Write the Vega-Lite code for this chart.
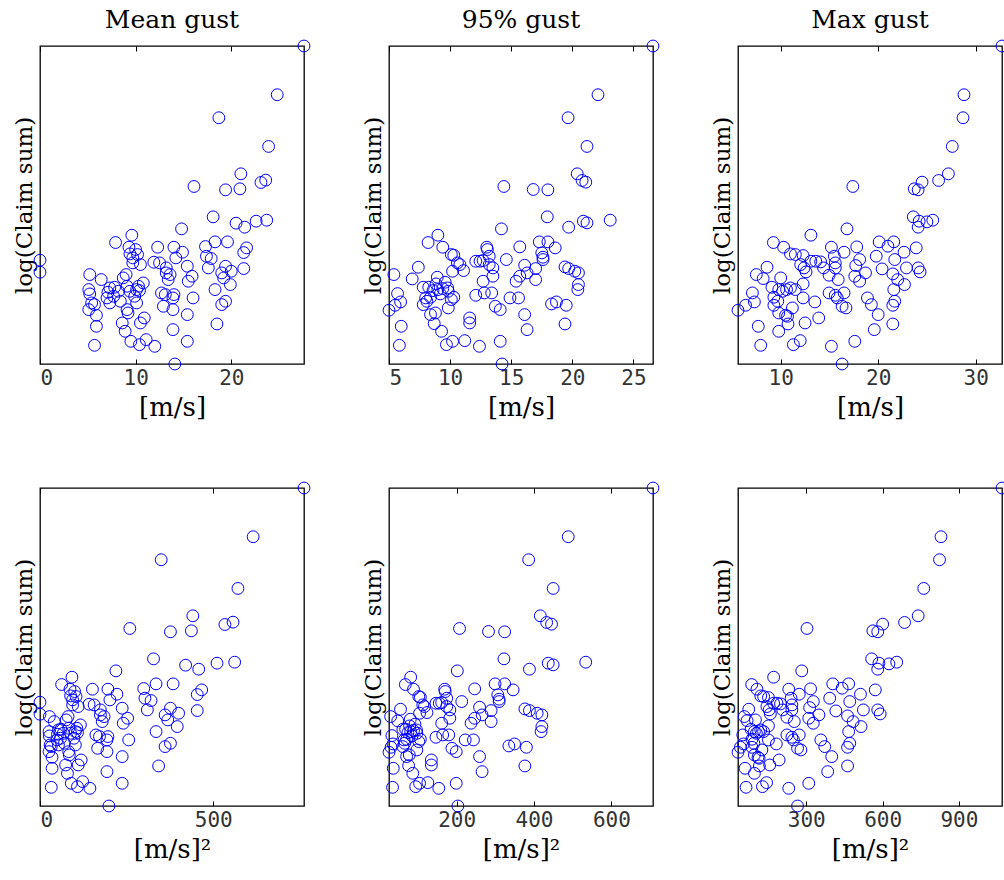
{
"$schema": "https://vega.github.io/schema/vega-lite/v6.json",
"background": "white",
"padding": {"left": 12, "top": 7, "right": 0, "bottom": 0},
"config": {
  "view": {"stroke": "black", "strokeWidth": 1.3},
  "axis": {"grid": false, "domain": false, "tickColor": "black", "tickSize": -5, "tickWidth": 1,
           "labelFont": "DejaVu Sans Mono", "labelFontSize": 21, "labelColor": "#333333", "labelPadding": 8,
           "titleFont": "DejaVu Serif", "titleFontSize": 26, "titleFontWeight": "normal", "titleColor": "black", "titlePadding": 6},
  "axisY": {"titleFontSize": 23},
  "title": {"font": "DejaVu Serif", "fontSize": 25, "fontWeight": "normal", "color": "black", "offset": 5}
},
"datasets": {
"p1": [
{"x":27.6,"x2":761.76,"y":953},{"x":24.8,"x2":615.04,"y":807},{"x":18.7,"x2":349.69,"y":738},{"x":23.9,"x2":571.21,"y":652},{"x":21.0,"x2":441,"y":570},{"x":23.1,"x2":533.61,"y":544},{"x":23.6,"x2":556.96,"y":551},{"x":16.1,"x2":259.21,"y":532},{"x":19.4,"x2":376.36,"y":522},{"x":20.9,"x2":436.81,"y":525},
{"x":18.1,"x2":327.61,"y":441},{"x":20.5,"x2":420.25,"y":422},{"x":21.4,"x2":457.96,"y":410},{"x":22.6,"x2":510.76,"y":428},{"x":23.7,"x2":561.69,"y":431},{"x":14.8,"x2":219.04,"y":405},{"x":9.6,"x2":92.16,"y":386},{"x":7.9,"x2":62.41,"y":364},{"x":9.3,"x2":86.49,"y":350},{"x":12.3,"x2":151.29,"y":350},
{"x":14.0,"x2":196,"y":350},{"x":14.9,"x2":222.01,"y":335},{"x":17.3,"x2":299.29,"y":352},{"x":18.3,"x2":334.89,"y":366},{"x":19.6,"x2":384.16,"y":366},{"x":21.6,"x2":466.56,"y":348},{"x":21.3,"x2":453.69,"y":334},{"x":17.4,"x2":302.76,"y":323},{"x":17.9,"x2":320.41,"y":316},{"x":14.2,"x2":201.64,"y":318},
{"x":0,"x2":0,"y":311},{"x":0,"x2":0,"y":275},{"x":9.4,"x2":88.36,"y":330},{"x":10.2,"x2":104.04,"y":328},{"x":10.5,"x2":110.25,"y":298},{"x":9.7,"x2":94.09,"y":303},{"x":11.9,"x2":141.61,"y":305},{"x":12.5,"x2":156.25,"y":303},{"x":13.2,"x2":174.24,"y":288},{"x":13.6,"x2":184.96,"y":268},
{"x":15.4,"x2":237.16,"y":293},{"x":15.9,"x2":252.81,"y":263},{"x":15.5,"x2":240.25,"y":248},{"x":17.6,"x2":309.76,"y":288},{"x":19.4,"x2":376.36,"y":293},{"x":19.0,"x2":361,"y":273},{"x":20.0,"x2":400,"y":278},{"x":21.3,"x2":453.69,"y":286},{"x":19.2,"x2":368.64,"y":258},{"x":19.9,"x2":396.01,"y":238},
{"x":18.3,"x2":334.89,"y":223},{"x":19.4,"x2":376.36,"y":188},{"x":19.0,"x2":361,"y":178},{"x":18.5,"x2":342.25,"y":120},{"x":5.2,"x2":27.04,"y":268},{"x":6.4,"x2":40.96,"y":253},{"x":5.1,"x2":26.01,"y":223},{"x":5.2,"x2":27.04,"y":210},{"x":5.4,"x2":29.16,"y":183},{"x":5.7,"x2":32.49,"y":178},
{"x":5.1,"x2":26.01,"y":163},{"x":5.9,"x2":34.81,"y":146},{"x":5.9,"x2":34.81,"y":113},{"x":5.7,"x2":32.49,"y":56},{"x":7.3,"x2":53.29,"y":228},{"x":7.8,"x2":60.84,"y":230},{"x":7.0,"x2":49,"y":198},{"x":7.3,"x2":53.29,"y":183},{"x":7.1,"x2":50.41,"y":215},{"x":8.4,"x2":70.56,"y":188},
{"x":8.7,"x2":75.69,"y":258},{"x":9.0,"x2":81,"y":268},{"x":9.1,"x2":82.81,"y":233},{"x":9.4,"x2":88.36,"y":218},{"x":10.1,"x2":102.01,"y":223},{"x":10.4,"x2":108.16,"y":220},{"x":9.9,"x2":98.01,"y":203},{"x":10.1,"x2":102.01,"y":183},{"x":10.8,"x2":116.64,"y":243},{"x":9.1,"x2":82.81,"y":163},
{"x":9.2,"x2":84.64,"y":153},{"x":8.6,"x2":73.96,"y":123},{"x":8.9,"x2":79.21,"y":98},{"x":9.5,"x2":90.25,"y":68},{"x":10.4,"x2":108.16,"y":58},{"x":10.5,"x2":110.25,"y":123},{"x":10.9,"x2":118.81,"y":138},{"x":11.1,"x2":123.21,"y":73},{"x":12.0,"x2":144,"y":53},{"x":14.1,"x2":198.81,"y":0},
{"x":13.9,"x2":193.21,"y":103},{"x":13.9,"x2":193.21,"y":163},{"x":12.9,"x2":166.41,"y":173},{"x":12.7,"x2":161.29,"y":213},{"x":13.1,"x2":171.61,"y":208},{"x":13.4,"x2":179.56,"y":253},{"x":14.0,"x2":196,"y":208},{"x":13.9,"x2":193.21,"y":198},{"x":16.0,"x2":256,"y":198},{"x":15.4,"x2":237.16,"y":148},
{"x":15.4,"x2":237.16,"y":68},{"x":13.2,"x2":174.24,"y":273},{"x":7.7,"x2":59.29,"y":203},{"x":10.3,"x2":106.09,"y":233},{"x":8.2,"x2":67.24,"y":218},{"x":9.7,"x2":94.09,"y":318},{"x":10.0,"x2":100,"y":343}
],
"p2": [
{"x":26.6,"x2":707.56,"y":953},{"x":22.1,"x2":488.41,"y":807},{"x":19.65,"x2":386.12,"y":738},{"x":21.2,"x2":449.44,"y":652},{"x":20.4,"x2":416.16,"y":570},{"x":20.8,"x2":432.64,"y":550},{"x":21.1,"x2":445.21,"y":545},{"x":14.4,"x2":207.36,"y":532},{"x":16.8,"x2":282.24,"y":523},{"x":18.0,"x2":324,"y":522},
{"x":17.95,"x2":322.2,"y":441},{"x":19.7,"x2":388.09,"y":410},{"x":20.9,"x2":436.81,"y":428},{"x":21.2,"x2":449.44,"y":423},{"x":23.1,"x2":533.61,"y":431},{"x":14.2,"x2":201.64,"y":405},{"x":9.0,"x2":81,"y":386},{"x":8.2,"x2":67.24,"y":364},{"x":9.4,"x2":88.36,"y":350},{"x":13.0,"x2":169,"y":350},
{"x":13.05,"x2":170.3,"y":343},{"x":15.7,"x2":246.49,"y":351},{"x":17.3,"x2":299.29,"y":366},{"x":18.0,"x2":324,"y":366},{"x":18.6,"x2":345.96,"y":348},{"x":17.5,"x2":306.25,"y":333},{"x":17.6,"x2":309.76,"y":320},{"x":17.6,"x2":309.76,"y":313},{"x":14.6,"x2":213.16,"y":313},{"x":10.1,"x2":102.01,"y":328},
{"x":10.3,"x2":106.09,"y":326},{"x":10.6,"x2":112.36,"y":303},{"x":10.8,"x2":116.64,"y":298},{"x":10.2,"x2":104.04,"y":278},{"x":11.1,"x2":123.21,"y":280},{"x":12.1,"x2":146.41,"y":308},{"x":12.45,"x2":155.0,"y":308},{"x":12.7,"x2":161.29,"y":310},{"x":13.2,"x2":174.24,"y":323},{"x":13.2,"x2":174.24,"y":298},
{"x":13.5,"x2":182.25,"y":288},{"x":13.5,"x2":182.25,"y":263},{"x":12.7,"x2":161.29,"y":248},{"x":12.1,"x2":146.41,"y":206},{"x":12.8,"x2":163.84,"y":213},{"x":13.4,"x2":179.56,"y":213},{"x":13.7,"x2":187.69,"y":173},{"x":14.1,"x2":198.81,"y":163},{"x":14.1,"x2":198.81,"y":68},{"x":14.25,"x2":203.06,"y":0},
{"x":14.9,"x2":222.01,"y":198},{"x":15.6,"x2":243.36,"y":198},{"x":15.4,"x2":237.16,"y":248},{"x":15.7,"x2":246.49,"y":263},{"x":16.1,"x2":259.21,"y":296},{"x":16.3,"x2":265.69,"y":273},{"x":17.0,"x2":289,"y":286},{"x":17.0,"x2":289,"y":253},{"x":16.1,"x2":259.21,"y":148},{"x":16.3,"x2":265.69,"y":103},
{"x":18.3,"x2":334.89,"y":180},{"x":18.7,"x2":349.69,"y":186},{"x":19.5,"x2":380.25,"y":176},{"x":19.4,"x2":376.36,"y":120},{"x":19.4,"x2":376.36,"y":291},{"x":19.7,"x2":388.09,"y":286},{"x":20.2,"x2":408.04,"y":278},{"x":20.5,"x2":420.25,"y":273},{"x":20.5,"x2":420.25,"y":238},{"x":20.45,"x2":418.2,"y":223},
{"x":5.4,"x2":29.16,"y":268},{"x":6.9,"x2":47.61,"y":255},{"x":7.4,"x2":54.76,"y":290},{"x":5.7,"x2":32.49,"y":211},{"x":5.95,"x2":35.4,"y":186},{"x":5.0,"x2":25,"y":161},{"x":5.5,"x2":30.25,"y":176},{"x":6.0,"x2":36,"y":113},{"x":5.85,"x2":34.22,"y":56},{"x":7.8,"x2":60.84,"y":230},
{"x":8.25,"x2":68.06,"y":230},{"x":8.0,"x2":64,"y":198},{"x":8.1,"x2":65.61,"y":188},{"x":8.4,"x2":70.56,"y":200},{"x":7.8,"x2":60.84,"y":178},{"x":8.95,"x2":80.1,"y":260},{"x":8.6,"x2":73.96,"y":220},{"x":9.0,"x2":81,"y":223},{"x":9.4,"x2":88.36,"y":226},{"x":9.8,"x2":96.04,"y":228},
{"x":9.6,"x2":92.16,"y":245},{"x":9.85,"x2":97.02,"y":218},{"x":10.3,"x2":106.09,"y":200},{"x":9.85,"x2":97.02,"y":168},{"x":8.4,"x2":70.56,"y":148},{"x":8.8,"x2":77.44,"y":153},{"x":8.7,"x2":75.69,"y":121},{"x":9.3,"x2":86.49,"y":98},{"x":9.7,"x2":94.09,"y":58},{"x":10.2,"x2":104.04,"y":68},
{"x":11.2,"x2":125.44,"y":70},{"x":12.4,"x2":153.76,"y":53},{"x":11.6,"x2":134.56,"y":138},{"x":11.6,"x2":134.56,"y":123},{"x":10.1,"x2":102.01,"y":193},{"x":9.2,"x2":84.64,"y":210},{"x":8.85,"x2":78.32,"y":240}
],
"p3": [
{"x":32.7,"x2":1069.29,"y":953},{"x":28.8,"x2":829.44,"y":807},{"x":28.7,"x2":823.69,"y":738},{"x":27.6,"x2":761.76,"y":652},{"x":27.2,"x2":739.84,"y":570},{"x":26.2,"x2":686.44,"y":550},{"x":24.5,"x2":600.25,"y":545},{"x":23.7,"x2":561.69,"y":525},{"x":24.1,"x2":580.81,"y":522},{"x":17.4,"x2":302.76,"y":532},
{"x":23.6,"x2":556.96,"y":441},{"x":24.2,"x2":585.64,"y":428},{"x":24.1,"x2":580.81,"y":410},{"x":25.0,"x2":625,"y":426},{"x":25.6,"x2":655.36,"y":431},{"x":16.8,"x2":282.24,"y":405},{"x":13.1,"x2":171.61,"y":386},{"x":9.25,"x2":85.56,"y":364},{"x":10.3,"x2":106.09,"y":350},{"x":15.2,"x2":231.04,"y":350},
{"x":17.8,"x2":316.84,"y":351},{"x":16.5,"x2":272.25,"y":335},{"x":20.1,"x2":404.01,"y":366},{"x":21.0,"x2":441,"y":353},{"x":21.6,"x2":466.56,"y":366},{"x":22.65,"x2":513.02,"y":335},{"x":23.9,"x2":571.21,"y":348},{"x":11.0,"x2":121,"y":330},{"x":11.5,"x2":132.25,"y":328},{"x":12.3,"x2":151.29,"y":325},
{"x":12.05,"x2":145.2,"y":298},{"x":12.4,"x2":153.76,"y":288},{"x":13.1,"x2":171.61,"y":308},{"x":13.6,"x2":184.96,"y":308},{"x":14.1,"x2":198.81,"y":306},{"x":14.4,"x2":207.36,"y":288},{"x":15.5,"x2":240.25,"y":323},{"x":15.6,"x2":243.36,"y":303},{"x":15.6,"x2":243.36,"y":288},{"x":14.96,"x2":223.8,"y":266},
{"x":15.9,"x2":252.81,"y":253},{"x":18.1,"x2":327.61,"y":313},{"x":17.7,"x2":313.29,"y":295},{"x":17.6,"x2":309.76,"y":263},{"x":18.1,"x2":327.61,"y":248},{"x":18.7,"x2":349.69,"y":273},{"x":19.8,"x2":392.04,"y":323},{"x":20.4,"x2":416.16,"y":285},{"x":21.5,"x2":462.25,"y":270},{"x":21.7,"x2":470.89,"y":313},
{"x":22.0,"x2":484,"y":253},{"x":22.7,"x2":515.29,"y":238},{"x":22.9,"x2":524.41,"y":288},{"x":24.1,"x2":580.81,"y":288},{"x":24.3,"x2":590.49,"y":276},{"x":21.6,"x2":466.56,"y":223},{"x":21.7,"x2":470.89,"y":188},{"x":21.5,"x2":462.25,"y":176},{"x":21.5,"x2":462.25,"y":120},{"x":18.9,"x2":357.21,"y":198},
{"x":19.3,"x2":372.49,"y":178},{"x":20.0,"x2":400,"y":148},{"x":19.6,"x2":384.16,"y":103},{"x":17.6,"x2":309.76,"y":68},{"x":16.3,"x2":265.69,"y":0},{"x":15.2,"x2":231.04,"y":53},{"x":14.96,"x2":223.8,"y":213},{"x":15.6,"x2":243.36,"y":206},{"x":15.8,"x2":249.64,"y":198},{"x":16.5,"x2":272.25,"y":213},
{"x":16.3,"x2":265.69,"y":173},{"x":16.7,"x2":278.89,"y":168},{"x":13.5,"x2":182.25,"y":186},{"x":13.9,"x2":193.21,"y":138},{"x":12.5,"x2":156.25,"y":123},{"x":11.3,"x2":127.69,"y":58},{"x":12.0,"x2":144,"y":70},{"x":9.8,"x2":96.04,"y":98},{"x":10.75,"x2":115.56,"y":120},{"x":7.95,"x2":63.2,"y":56},
{"x":7.7,"x2":59.29,"y":113},{"x":5.62,"x2":31.58,"y":161},{"x":6.4,"x2":40.96,"y":176},{"x":7.3,"x2":53.29,"y":186},{"x":7.1,"x2":50.41,"y":213},{"x":7.5,"x2":56.25,"y":268},{"x":8.2,"x2":67.24,"y":256},{"x":8.6,"x2":73.96,"y":290},{"x":9.1,"x2":82.81,"y":230},{"x":9.3,"x2":86.49,"y":200},
{"x":9.7,"x2":94.09,"y":188},{"x":9.3,"x2":86.49,"y":176},{"x":9.8,"x2":96.04,"y":153},{"x":10.5,"x2":110.25,"y":146},{"x":10.0,"x2":100,"y":258},{"x":9.8,"x2":96.04,"y":223},{"x":10.2,"x2":104.04,"y":218},{"x":10.6,"x2":112.36,"y":223},{"x":11.0,"x2":121,"y":228},{"x":11.5,"x2":132.25,"y":223},
{"x":11.2,"x2":125.44,"y":168},{"x":10.7,"x2":114.49,"y":143},{"x":12.3,"x2":151.29,"y":240},{"x":12.6,"x2":158.76,"y":276},{"x":12.3,"x2":151.29,"y":198}
]
},
"columns": 3,
"spacing": {"row": 124, "column": 85},
"bounds": "flush",
"concat": [
 {"title": "Mean gust", "width": 264, "height": 318, "data": {"name": "p1"},
  "layer": [
   {"mark": {"type": "point", "shape": "circle", "filled": false, "color": "#0000ff", "size": 140, "strokeWidth": 1, "opacity": 1},
    "encoding": {"x": {"field": "x", "type": "quantitative", "scale": {"domain": [0, 27.6], "nice": false, "zero": false}, "axis": {"orient": "bottom", "values": [0, 10, 20], "title": "[m/s]"}},
                 "y": {"field": "y", "type": "quantitative", "scale": {"domain": [0, 953], "nice": false, "zero": false}, "axis": {"title": "log(Claim sum)", "labels": false, "ticks": false, "titlePadding": 4}}}},
   {"mark": {"type": "point", "opacity": 0},
    "encoding": {"x": {"field": "x", "type": "quantitative", "axis": {"orient": "top", "values": [0, 10, 20], "labels": false, "title": null}}}}
  ],
  "resolve": {"axis": {"x": "independent"}}},
 {"title": "95% gust", "width": 264, "height": 318, "data": {"name": "p2"},
  "layer": [
   {"mark": {"type": "point", "shape": "circle", "filled": false, "color": "#0000ff", "size": 140, "strokeWidth": 1, "opacity": 1},
    "encoding": {"x": {"field": "x", "type": "quantitative", "scale": {"domain": [5, 26.6], "nice": false, "zero": false}, "axis": {"orient": "bottom", "values": [5, 10, 15, 20, 25], "title": "[m/s]"}},
                 "y": {"field": "y", "type": "quantitative", "scale": {"domain": [0, 953], "nice": false, "zero": false}, "axis": {"title": "log(Claim sum)", "labels": false, "ticks": false, "titlePadding": 4}}}},
   {"mark": {"type": "point", "opacity": 0},
    "encoding": {"x": {"field": "x", "type": "quantitative", "axis": {"orient": "top", "values": [5, 10, 15, 20, 25], "labels": false, "title": null}}}}
  ],
  "resolve": {"axis": {"x": "independent"}}},
 {"title": "Max gust", "width": 264, "height": 318, "data": {"name": "p3"},
  "layer": [
   {"mark": {"type": "point", "shape": "circle", "filled": false, "color": "#0000ff", "size": 140, "strokeWidth": 1, "opacity": 1},
    "encoding": {"x": {"field": "x", "type": "quantitative", "scale": {"domain": [5.62, 32.7], "nice": false, "zero": false}, "axis": {"orient": "bottom", "values": [10, 20, 30], "title": "[m/s]"}},
                 "y": {"field": "y", "type": "quantitative", "scale": {"domain": [0, 953], "nice": false, "zero": false}, "axis": {"title": "log(Claim sum)", "labels": false, "ticks": false, "titlePadding": 4}}}},
   {"mark": {"type": "point", "opacity": 0},
    "encoding": {"x": {"field": "x", "type": "quantitative", "axis": {"orient": "top", "values": [10, 20, 30], "labels": false, "title": null}}}}
  ],
  "resolve": {"axis": {"x": "independent"}}},
 {"width": 264, "height": 318, "data": {"name": "p1"},
  "layer": [
   {"mark": {"type": "point", "shape": "circle", "filled": false, "color": "#0000ff", "size": 140, "strokeWidth": 1, "opacity": 1},
    "encoding": {"x": {"field": "x2", "type": "quantitative", "scale": {"domain": [0, 761.76], "nice": false, "zero": false}, "axis": {"orient": "bottom", "values": [0, 500], "title": "[m/s]²"}},
                 "y": {"field": "y", "type": "quantitative", "scale": {"domain": [0, 953], "nice": false, "zero": false}, "axis": {"title": "log(Claim sum)", "labels": false, "ticks": false, "titlePadding": 4}}}},
   {"mark": {"type": "point", "opacity": 0},
    "encoding": {"x": {"field": "x2", "type": "quantitative", "axis": {"orient": "top", "values": [0, 500], "labels": false, "title": null}}}}
  ],
  "resolve": {"axis": {"x": "independent"}}},
 {"width": 264, "height": 318, "data": {"name": "p2"},
  "layer": [
   {"mark": {"type": "point", "shape": "circle", "filled": false, "color": "#0000ff", "size": 140, "strokeWidth": 1, "opacity": 1},
    "encoding": {"x": {"field": "x2", "type": "quantitative", "scale": {"domain": [25, 707.56], "nice": false, "zero": false}, "axis": {"orient": "bottom", "values": [200, 400, 600], "title": "[m/s]²"}},
                 "y": {"field": "y", "type": "quantitative", "scale": {"domain": [0, 953], "nice": false, "zero": false}, "axis": {"title": "log(Claim sum)", "labels": false, "ticks": false, "titlePadding": 4}}}},
   {"mark": {"type": "point", "opacity": 0},
    "encoding": {"x": {"field": "x2", "type": "quantitative", "axis": {"orient": "top", "values": [200, 400, 600], "labels": false, "title": null}}}}
  ],
  "resolve": {"axis": {"x": "independent"}}},
 {"width": 264, "height": 318, "data": {"name": "p3"},
  "layer": [
   {"mark": {"type": "point", "shape": "circle", "filled": false, "color": "#0000ff", "size": 140, "strokeWidth": 1, "opacity": 1},
    "encoding": {"x": {"field": "x2", "type": "quantitative", "scale": {"domain": [31.58, 1069.29], "nice": false, "zero": false}, "axis": {"orient": "bottom", "values": [300, 600, 900], "title": "[m/s]²"}},
                 "y": {"field": "y", "type": "quantitative", "scale": {"domain": [0, 953], "nice": false, "zero": false}, "axis": {"title": "log(Claim sum)", "labels": false, "ticks": false, "titlePadding": 4}}}},
   {"mark": {"type": "point", "opacity": 0},
    "encoding": {"x": {"field": "x2", "type": "quantitative", "axis": {"orient": "top", "values": [300, 600, 900], "labels": false, "title": null}}}}
  ],
  "resolve": {"axis": {"x": "independent"}}}
]
}
